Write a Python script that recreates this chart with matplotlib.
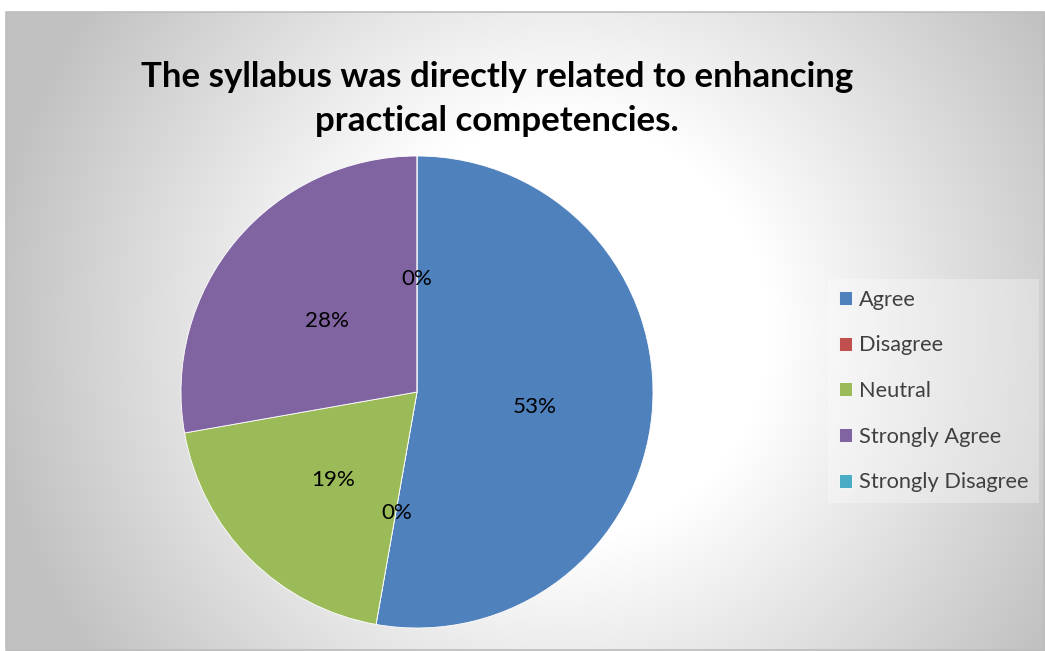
import numpy as np
import matplotlib
matplotlib.use("Agg")
import matplotlib.pyplot as plt
import matplotlib.transforms as mtransforms
from matplotlib.patches import Rectangle

categories = ["Agree", "Disagree", "Neutral", "Strongly Agree", "Strongly Disagree"]
counts = [19, 0, 7, 10, 0]
colors = ["#4F81BD", "#C0504D", "#9BBB59", "#8064A2", "#4BACC6"]
title_lines = ["The syllabus was directly related to enhancing", "practical competencies."]

plt.rcParams['font.family'] = ['Lato', 'DejaVu Sans']

W, H = 1045, 651
fig = plt.figure(figsize=(W / 100, H / 100), dpi=100)

# background gradient over the chart area
bg = fig.add_axes([0, 0, 1, 1])
bg.set_xlim(0, W)
bg.set_ylim(H, 0)
bg.axis('off')
x0, y0 = 6, 12
yy, xx = np.mgrid[y0:H, x0:W]
d = np.hypot(xx - 560, yy - 330)
v = np.clip(255 - 0.17 * np.maximum(0, d - 210), 193, 255)
img = np.dstack([v, v, v]) / 255.0
bg.imshow(img, extent=[x0, W, H, y0], aspect='auto', interpolation='bilinear', zorder=0)
bg.add_patch(Rectangle((x0, y0), W - x0 - 1, H - y0 - 1, fill=False, edgecolor='#bdbdbd', lw=1.2, zorder=1))

# pie
r_px = 236
cxp, cyp = 417, 392
ax = fig.add_axes([(cxp - r_px) / W, 1 - (cyp + r_px) / H, 2 * r_px / W, 2 * r_px / H])
wedges, texts, autotexts = ax.pie(
    counts, colors=colors, startangle=90, counterclock=False,
    autopct=lambda p: f"{p:.0f}%", pctdistance=0.5, radius=1.0,
    wedgeprops=dict(linewidth=0.6, edgecolor='white'),
    textprops=dict(fontsize=16, color='black'))
ax.set_xlim(-1, 1)
ax.set_ylim(-1, 1)
ax.set_aspect('equal')
ax.patch.set_alpha(0)

renderer = fig.canvas.get_renderer()

def fit(t, target_px):
    w = t.get_window_extent(renderer).width
    t.set_fontsize(t.get_fontsize() * target_px / w)

# fit percent label size to reference width of "53%"
fit(autotexts[0], 44)
shift = mtransforms.ScaledTranslation(0, -5 / 100, fig.dpi_scale_trans)
for a in autotexts:
    a.set_fontsize(autotexts[0].get_fontsize())
    a.set_transform(a.get_transform() + shift)

t1 = fig.text(497 / W, 1 - 77 / H, title_lines[0], ha='center', va='center', fontsize=24,
              fontweight='bold', color='black')
fit(t1, 715)
t2 = fig.text(497 / W, 1 - 121 / H, title_lines[1], ha='center', va='center',
              fontsize=t1.get_fontsize(), fontweight='bold', color='black')

probe = fig.text(0, 0, "Strongly Disagree", fontsize=16)
fit(probe, 170)
lfs = probe.get_fontsize()
probe.remove()

leg = fig.legend(wedges, categories, loc='center left', bbox_to_anchor=(828 / W, 1 - 391 / H),
                 frameon=True, fontsize=lfs, handlelength=0.62, handleheight=0.62,
                 handletextpad=0.3, labelspacing=1.18, borderpad=0.5, borderaxespad=0)
leg.get_frame().set_facecolor('white')
leg.get_frame().set_alpha(0.3)
leg.get_frame().set_edgecolor('none')
leg.get_frame().set_boxstyle('square', pad=0)
for t in leg.get_texts():
    t.set_color('#404040')

fig.savefig("out.png", dpi=100)
